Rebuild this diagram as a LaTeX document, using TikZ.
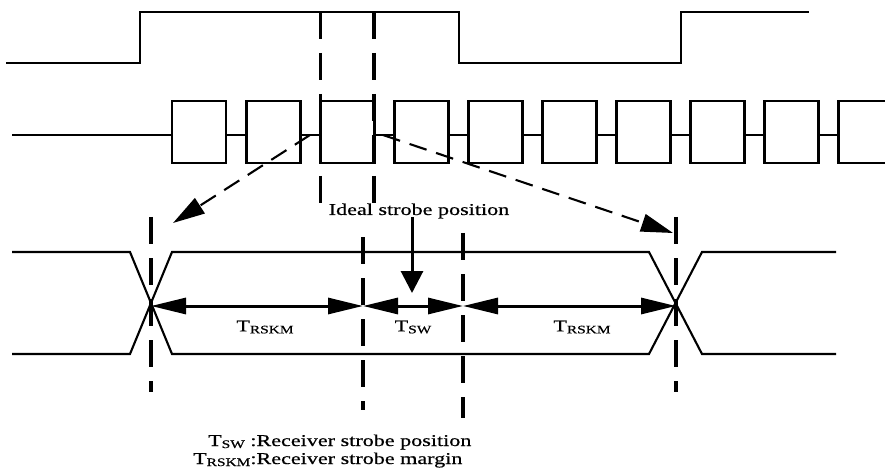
\documentclass[tikz,border=0pt]{standalone}
\usepackage{fontspec}
\setmainfont{Liberation Serif}
\newfontfamily\lbl[FakeStretch=1.34,FakeBold=0.6]{Liberation Serif}
\usetikzlibrary{arrows.meta}
\newcommand{\subcaps}[1]{\raisebox{-2pt}{\fontsize{11.5}{12}\lbl #1}}
\begin{document}
\begin{tikzpicture}[x=1pt,y=-1pt,
  sig/.style={line width=2.9pt, line join=miter},
  eye/.style={line width=2.1pt},
  vdash/.style={line width=3.5pt, dash pattern=on 27pt off 14pt},
  darrow/.style={line width=2.1pt, dash pattern=on 18pt off 10pt, -{Triangle[length=32pt,width=18pt]}},
  dimarrow/.style={line width=3pt, {Triangle[length=35pt,width=16pt]}-{Triangle[length=35pt,width=16pt]}},
  lab/.style={font=\fontsize{16.5}{18}\lbl, inner sep=0pt}
]
\clip (0,0) rectangle (885,470);
\fill[white] (0,0) rectangle (885,470);

% clock
\draw[sig] (6,63) -- (140,63) -- (140,12) -- (459,12) -- (459,63) -- (681,63) -- (681,12) -- (809,12);

% data boxes
\draw[sig] (12,135) -- (172,135);
\foreach \i in {0,...,9}{
  \pgfmathsetmacro{\xa}{172+74.1*\i}
  \draw[sig] (\xa,101) rectangle ({\xa+54},163);
  \draw[sig] ({\xa+54},135) -- ({\xa+74.1},135);
}

% coordinates
\coordinate (s1) at (310,135);
\coordinate (s2) at (383,135);
\coordinate (t1) at (173,223);
\coordinate (t2) at (673,233);
\coordinate (xl) at (151,306);
\coordinate (sa) at (363,306);
\coordinate (sb) at (463,306);
\coordinate (xr) at (676,306);
\coordinate (ia) at (412,217);
\coordinate (ib) at (412,293);

% top dashed strobe window
\draw[vdash] (320.5,12) -- (320.5,205);
\draw[vdash] (374,12) -- (374,205);

% dashed arrows
\draw[darrow] (s1) -- (t1);
\draw[darrow] (s2) -- (t2);

% eye
\draw[eye] (12,252) -- (130,252) -- (172,354) -- (649,354) -- (702,252) -- (836,252);
\draw[eye] (12,354) -- (130,354) -- (172,252) -- (649,252) -- (702,354) -- (836,354);

% bottom dashed lines
\draw[vdash] (151,217) -- (151,392);
\draw[vdash] (676,217) -- (676,392);
\draw[vdash] (363,237) -- (363,410);
\draw[vdash] (463,233) -- (463,418);

% dimension arrows
\draw[dimarrow] (xl) -- (sa);
\draw[dimarrow] (sa) -- (sb);
\draw[dimarrow] (sb) -- (xr);

% ideal strobe
\node[lab] (ideal) at (419,211) {Ideal strobe position};
\draw[line width=3pt, -{Triangle[length=22pt,width=22pt]}] (ia) -- (ib);

% labels
\node[lab] (l1) at (265,327) {T\subcaps{RSKM}};
\node[lab] (l2) at (413,327) {T\subcaps{SW}};
\node[lab] (l3) at (582,327) {T\subcaps{RSKM}};

% legend
\node[lab, anchor=base west] (g1) at (208,446) {T\subcaps{SW} :Receiver strobe position};
\node[lab, anchor=base west] (g2) at (193,464) {T\subcaps{RSKM}:Receiver strobe margin};
\end{tikzpicture}
\end{document}
